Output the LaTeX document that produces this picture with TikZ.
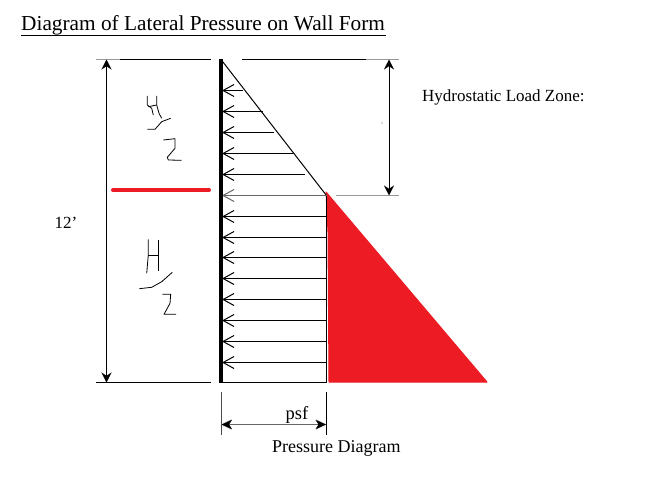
\documentclass[tikz,border=0pt]{standalone}
\usepackage{fontspec}
\setmainfont{Liberation Serif}
\usetikzlibrary{arrows.meta}
\definecolor{loadred}{RGB}{237,28,36}
\tikzset{
  dimline/.style={black, line width=1pt, {Stealth[length=10pt,width=10pt]}-{Stealth[length=10pt,width=10pt]}},
  guide/.style={black, line width=1pt},
  fadeguide/.style={black!40, line width=1pt},
  loadarrow/.style={black, line width=1pt, {Straight Barb[length=11pt,width=12pt]}-},
  pen/.style={black, line width=0.8pt, line join=round},
  label/.style={inner sep=0pt, font=\fontsize{17}{20}\selectfont}
}
\begin{document}
\begin{tikzpicture}[x=1pt,y=-1pt]
\useasboundingbox (0,0) rectangle (647,476);
\fill[white] (0,0) rectangle (647,476);

% title
\node[anchor=base west, inner sep=0pt, font=\fontsize{21.3}{24}\selectfont] (title) at (21,31) {Diagram of Lateral Pressure on Wall Form};
\draw[guide] (21,35.5) -- (386,35.5);

% red load
\fill[loadred, draw=loadred, line width=1pt, line join=round] (326,192) -- (487,382) -- (329,382) -- (328,232) -- cycle;

% levels
\coordinate (wallt) at (221,59.5);
\coordinate (wallb) at (221,382.5);
\coordinate (mid) at (326.5,195.5);
\coordinate (bot) at (326.5,382.5);
\draw[fadeguide] (96,59.5) -- (120,59.5);
\draw[guide] (120,59.5) -- (211,59.5);
\draw[guide] (242,59.5) -- (366,59.5);
\draw[fadeguide] (366,59.5) -- (399,59.5);
\draw[fadeguide] (336,195.5) -- (399,195.5);
\draw[guide] (96,382.5) -- (211,382.5);
\draw[guide] (wallb) -- (bot) -- (mid);
\draw[guide] (wallt) -- (mid);

% pressure arrows
\foreach \y/\e in {90/243,111/263,132/274,153/293,174/305,216/326,237/326,257/326,278/326,299/326,320/326,341/326,362/326}
  \draw[loadarrow] (222,\y.5) -- (\e,\y.5);
\draw[loadarrow, black!60] (222,195.5) -- (mid);

% wall
\draw[black, line width=3.2pt] (wallt) -- (wallb);

% dimensions
\draw[dimline] (106.5,59.5) -- (106.5,382.5);
\draw[dimline] (389,59.5) -- (389,195.5);
\draw[black!70, line width=1pt] (221.5,392) -- (221.5,435);
\draw[guide] (326,392) -- (326,435);
\draw[dimline, black!60] (221.5,424.5) -- (326,424.5);
\fill[black] (221.5,424.5) -- (232,420) -- (229,424.5) -- (232,429) -- cycle;
\fill[black] (326,424.5) -- (315.5,420) -- (318.5,424.5) -- (315.5,429) -- cycle;
\fill[black!60] (382,123) circle (0.6);

% middle line
\draw[loadred, line width=4pt, line cap=round] (113,190) -- (209,190);

% handwriting
\draw[pen] (147.3,96) -- (147.3,105) -- (151.7,108.3) -- (153.3,115);
\draw[pen] (148.3,106.7) -- (156.7,105);
\draw[pen] (156.7,96) -- (156.7,105) -- (159,113.3) -- (161.7,118.3);
\draw[pen] (147.3,129.3) -- (155,129.3) -- (161.7,121.7) -- (170.7,118.3);
\draw[pen] (163.3,140) -- (175,138.7) -- (175,148.3) -- (167.3,157.3) -- (168.3,160) -- (181.7,160.3);
\draw[pen] (148.3,239.3) -- (148.3,255) -- (146.7,273.3);
\draw[pen] (148.3,255) -- (158.3,255);
\draw[pen] (158.3,240) -- (158.3,270.7);
\draw[pen] (139.3,288.7) -- (151.7,287.3) -- (161.7,281.7) -- (172.3,272.3);
\draw[pen] (162.3,294.3) -- (170.7,294.3) -- (170,303.3) -- (164,314.3) -- (176,314.3);

% labels
\node[label] (height) at (66,223) {12’};
\node[label, anchor=base west] (zone) at (422,102) {Hydrostatic Load Zone:};
\node[label, font=\fontsize{18.5}{22}\selectfont] (psf) at (297,415) {psf};
\node[label, anchor=base west, font=\fontsize{18}{21}\selectfont] (caption) at (272,452) {Pressure Diagram};

\end{tikzpicture}
\end{document}
